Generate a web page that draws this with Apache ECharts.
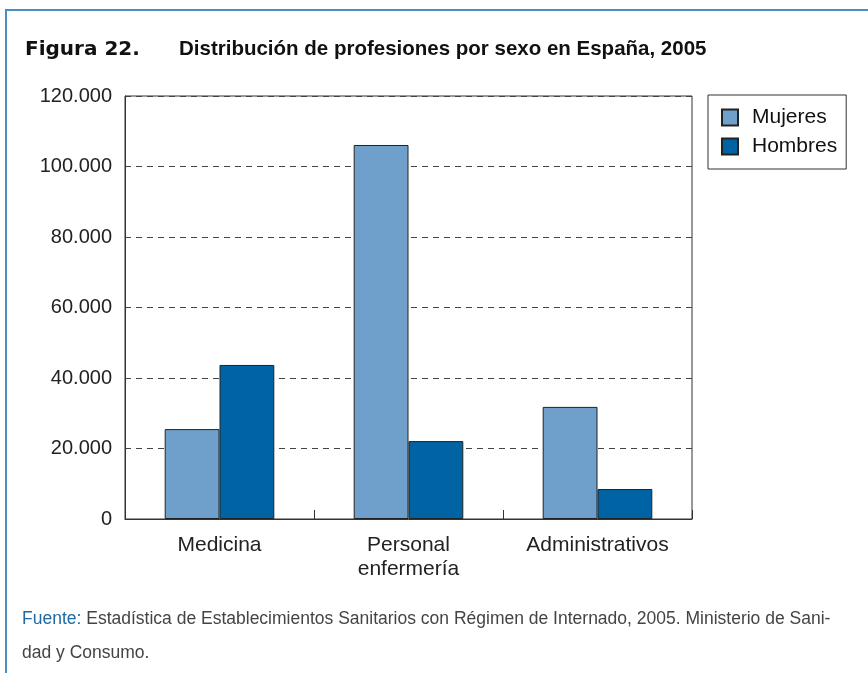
<!DOCTYPE html>
<html>
<head>
<meta charset="utf-8">
<script src="https://cdn.jsdelivr.net/npm/echarts@6/dist/echarts.min.js"></script>
<style>
  html, body { margin: 0; padding: 0; background: #fff; }
  #main { width: 868px; height: 673px; }
</style>
</head>
<body>
<div id="main"></div>
<script>
  // datos
  const categorias = ["Medicina", "Personal\nenfermería", "Administrativos"];
  const mujeres = [25500, 106100, 31800];
  const hombres = [43700, 22100, 8500];
  const yMin = 0, yMax = 120000, yStep = 20000;

  const font = "'Liberation Sans', Arial, sans-serif";

  function fmtMiles(v) {
    return String(v).replace(/\B(?=(\d{3})+(?!\d))/g, ".");
  }

  let myChart = echarts.init(document.getElementById("main"));
  myChart.setOption({
    animation: false,
    backgroundColor: "#fff",
    textStyle: { fontFamily: font },
    title: {
      left: 20,
      top: 34,
      text: "{a|Figura 22.}{b|Distribución de profesiones por sexo en España, 2005}",
      textStyle: {
        rich: {
          a: { fontFamily: "'DejaVu Sans', sans-serif", fontSize: 20, fontWeight: "bold", color: "#111", width: 154 },
          b: { fontFamily: font, fontSize: 20.5, fontWeight: "bold", color: "#111" },
        },
      },
    },
    legend: {
      orient: "vertical",
      left: 708,
      top: 95,
      padding: [12, 9, 12, 13],
      itemGap: 8,
      itemWidth: 16,
      itemHeight: 16,
      icon: "rect",
      borderColor: "#333",
      borderWidth: 1,
      textStyle: { fontSize: 21, color: "#111", padding: [0, 0, 0, 9] },
      data: ["Mujeres", "Hombres"],
    },
    grid: {
      left: 125,
      right: 176,
      top: 96,
      bottom: 154,
      show: true,
      borderColor: "#333",
      borderWidth: 1,
    },
    xAxis: {
      type: "category",
      data: categorias,
      axisLine: { lineStyle: { color: "#333", width: 1 } },
      axisTick: { show: true, inside: true, length: 9, lineStyle: { color: "#333" } },
      axisLabel: { fontSize: 21, color: "#222", margin: 14, lineHeight: 24 },
    },
    yAxis: {
      type: "value",
      min: yMin,
      max: yMax,
      interval: yStep,
      axisLine: { show: true, lineStyle: { color: "#333" } },
      axisTick: { show: false },
      axisLabel: { fontSize: 20, color: "#222", margin: 13, formatter: fmtMiles },
      splitLine: { show: true, lineStyle: { color: "#444", type: [6, 5], width: 1 } },
    },
    series: [
      {
        name: "Mujeres",
        type: "bar",
        data: mujeres,
        barGap: "0%",
        barCategoryGap: "42%",
        itemStyle: { color: "#6f9fcb", borderColor: "#222", borderWidth: 1 },
      },
      {
        name: "Hombres",
        type: "bar",
        data: hombres,
        itemStyle: { color: "#0063a3", borderColor: "#222", borderWidth: 1 },
      },
    ],
    graphic: [
      { type: "line", shape: { x1: 5, y1: 10, x2: 868, y2: 10 }, style: { stroke: "#4a8fc2", lineWidth: 2 } },
      { type: "line", shape: { x1: 6, y1: 10, x2: 6, y2: 673 }, style: { stroke: "#4a8fc2", lineWidth: 2 } },
      {
        type: "text",
        left: 22,
        top: 602,
        style: {
          text: "{f|Fuente:} Estadística de Establecimientos Sanitarios con Régimen de Internado, 2005. Ministerio de Sani-\ndad y Consumo.",
          fontFamily: font,
          fontSize: 17.5,
          lineHeight: 34,
          fill: "#444",
          rich: {
            f: { fontFamily: font, fontSize: 17.5, fill: "#1d6aa5", lineHeight: 34 },
          },
        },
      },
    ],
  });
</script>
</body>
</html>
